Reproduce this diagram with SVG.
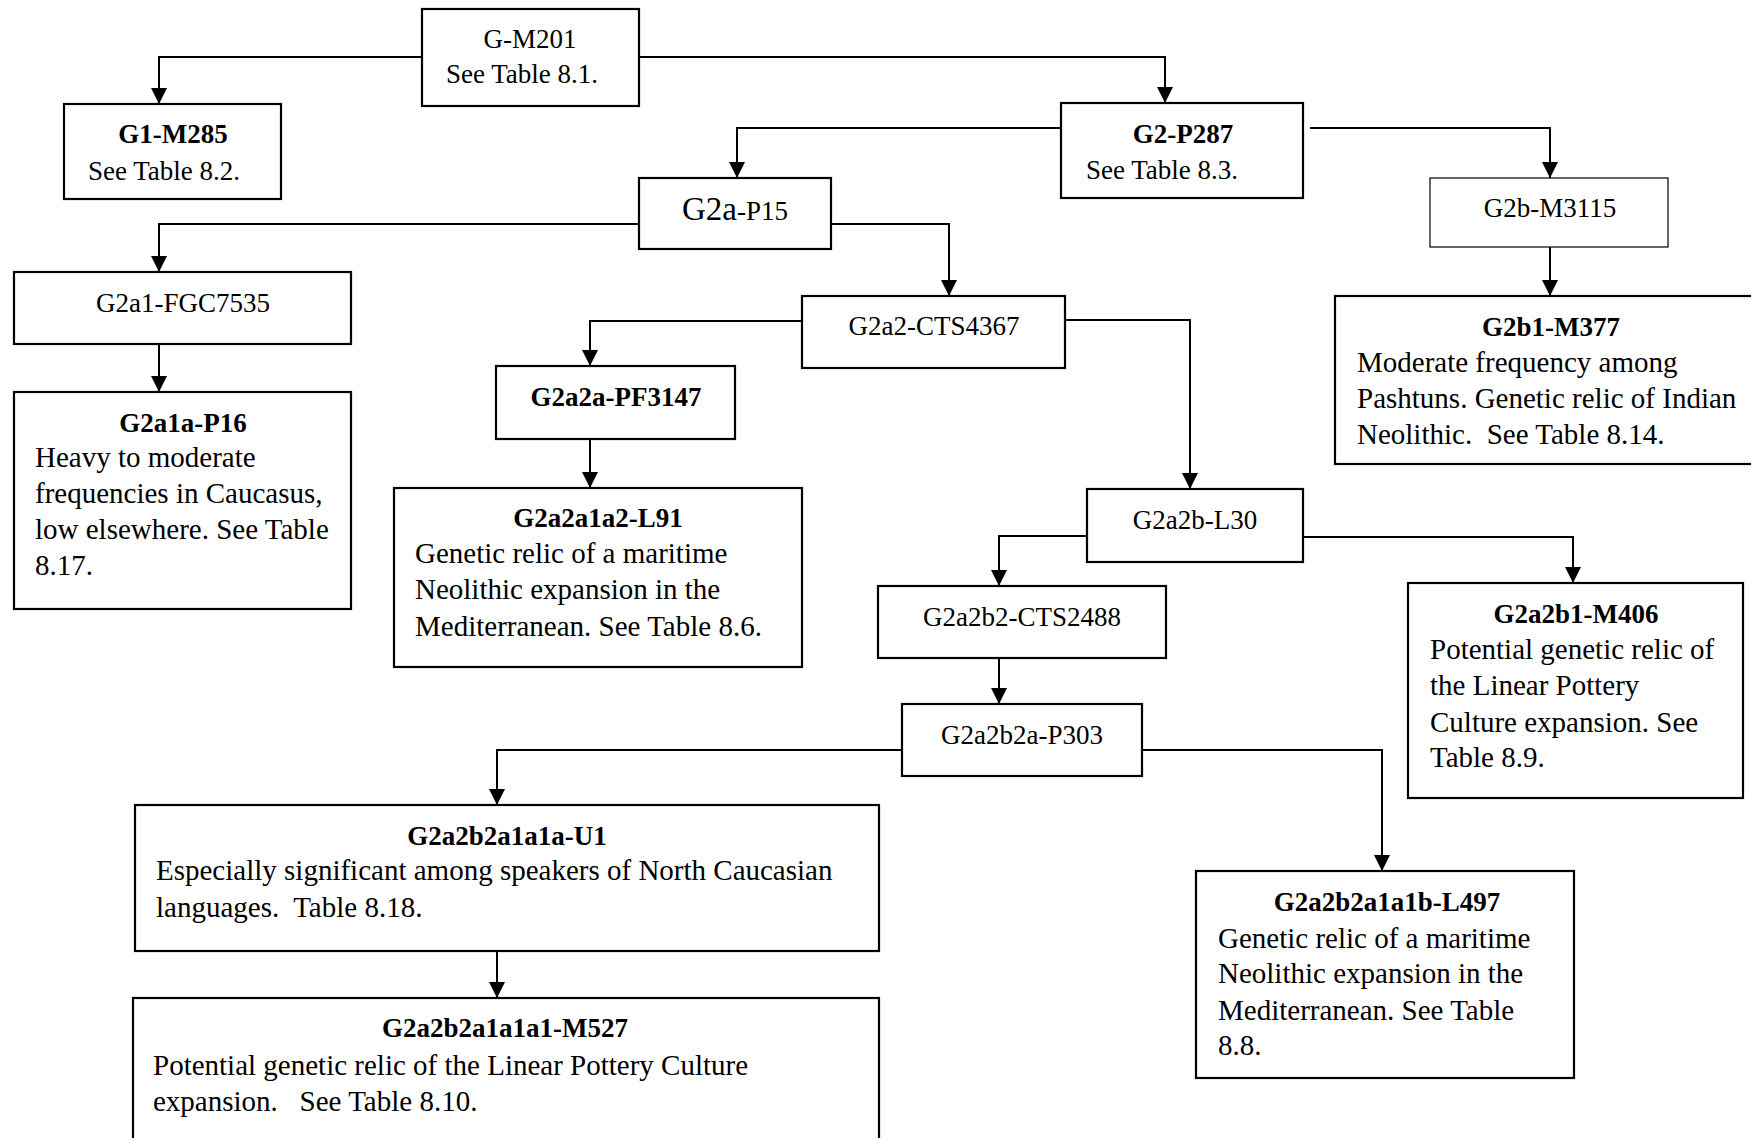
<svg xmlns="http://www.w3.org/2000/svg" width="1751" height="1138" viewBox="0 0 1751 1138">
<defs>
<marker id="arr" markerUnits="userSpaceOnUse" markerWidth="16" markerHeight="16" viewBox="0 0 14 14" refX="14" refY="7" orient="auto">
<path d="M0,0 L14,7 L0,14 Z" fill="#000"/>
</marker>
<style>
.box{fill:#fff;stroke:#000;stroke-width:2.2}
.thin{fill:#fff;stroke:#000;stroke-width:1.2}
.ln{fill:none;stroke:#000;stroke-width:2;marker-end:url(#arr)}
text{font-family:"Palatino Linotype","Book Antiqua",Palatino,"Liberation Serif",serif;fill:#000;white-space:pre}
.t{font-size:27px;text-anchor:middle}
.b{font-size:27px;font-weight:bold;text-anchor:middle}
.p{font-size:29px}
</style>
</defs>
<rect width="1751" height="1138" fill="#fff"/>
<g id="connectors">
<path class="ln" d="M422,57 H159 V104"/>
<path class="ln" d="M639,57 H1165 V103"/>
<path class="ln" d="M1061,128 H737 V178"/>
<path class="ln" d="M1310,128 H1550 V178"/>
<path class="ln" d="M639,224 H159 V272"/>
<path class="ln" d="M831,224 H949 V296"/>
<path class="ln" d="M159,344 V392"/>
<path class="ln" d="M802,321 H590 V366"/>
<path class="ln" d="M1065,320 H1190 V489"/>
<path class="ln" d="M590,439 V488"/>
<path class="ln" d="M1550,247 V296"/>
<path class="ln" d="M1087,536 H999 V586"/>
<path class="ln" d="M1303,537 H1573 V583"/>
<path class="ln" d="M999,658 V704"/>
<path class="ln" d="M902,750 H497 V805"/>
<path class="ln" d="M1142,750 H1382 V871"/>
<path class="ln" d="M497,951 V998"/>
</g>
<g id="G-M201">
<rect class="box" x="422" y="9" width="217" height="97"/>
<text class="t" x="530" y="48">G-M201</text>
<text class="t" x="522" y="83">See Table 8.1.</text>
</g>
<g id="G1-M285">
<rect class="box" x="64" y="104" width="217" height="95"/>
<text class="b" x="173" y="143">G1-M285</text>
<text class="t" x="164" y="180">See Table 8.2.</text>
</g>
<g id="G2-P287">
<rect class="box" x="1061" y="103" width="242" height="95"/>
<text class="b" x="1183" y="143">G2-P287</text>
<text class="t" x="1162" y="179">See Table 8.3.</text>
</g>
<g id="G2a-P15">
<rect class="box" x="639" y="178" width="192" height="71"/>
<text class="t" x="735" y="220"><tspan font-size="33">G2a</tspan>-P15</text>
</g>
<g id="G2b-M3115">
<rect class="thin" x="1430" y="178" width="238" height="69"/>
<text class="t" x="1550" y="217">G2b-M3115</text>
</g>
<g id="G2a1-FGC7535">
<rect class="box" x="14" y="272" width="337" height="72"/>
<text class="t" x="183" y="312">G2a1-FGC7535</text>
</g>
<g id="G2a2-CTS4367">
<rect class="box" x="802" y="296" width="263" height="72"/>
<text class="t" x="934" y="335">G2a2-CTS4367</text>
</g>
<g id="G2b1-M377">
<rect class="box" x="1335" y="296" width="430" height="168"/>
<text class="b" x="1551" y="336">G2b1-M377</text>
<text class="p" x="1357" y="372">Moderate frequency among</text>
<text class="p" x="1357" y="408">Pashtuns. Genetic relic of Indian</text>
<text class="p" x="1357" y="444" xml:space="preserve">Neolithic.  See Table 8.14.</text>
</g>
<g id="G2a2a-PF3147">
<rect class="box" x="496" y="366" width="239" height="73"/>
<text class="b" x="616" y="406">G2a2a-PF3147</text>
</g>
<g id="G2a1a-P16">
<rect class="box" x="14" y="392" width="337" height="217"/>
<text class="b" x="183" y="432">G2a1a-P16</text>
<text class="p" x="35" y="467">Heavy to moderate</text>
<text class="p" x="35" y="503">frequencies in Caucasus,</text>
<text class="p" x="35" y="539">low elsewhere. See Table</text>
<text class="p" x="35" y="575">8.17.</text>
</g>
<g id="G2a2a1a2-L91">
<rect class="box" x="394" y="488" width="408" height="179"/>
<text class="b" x="598" y="527">G2a2a1a2-L91</text>
<text class="p" x="415" y="563">Genetic relic of a maritime</text>
<text class="p" x="415" y="599">Neolithic expansion in the</text>
<text class="p" x="415" y="636">Mediterranean. See Table 8.6.</text>
</g>
<g id="G2a2b-L30">
<rect class="box" x="1087" y="489" width="216" height="73"/>
<text class="t" x="1195" y="529">G2a2b-L30</text>
</g>
<g id="G2a2b2-CTS2488">
<rect class="box" x="878" y="586" width="288" height="72"/>
<text class="t" x="1022" y="626">G2a2b2-CTS2488</text>
</g>
<g id="G2a2b1-M406">
<rect class="box" x="1408" y="583" width="335" height="215"/>
<text class="b" x="1576" y="623">G2a2b1-M406</text>
<text class="p" x="1430" y="659">Potential genetic relic of</text>
<text class="p" x="1430" y="695">the Linear Pottery</text>
<text class="p" x="1430" y="732">Culture expansion. See</text>
<text class="p" x="1430" y="767">Table 8.9.</text>
</g>
<g id="G2a2b2a-P303">
<rect class="box" x="902" y="704" width="240" height="72"/>
<text class="t" x="1022" y="744">G2a2b2a-P303</text>
</g>
<g id="G2a2b2a1a1a-U1">
<rect class="box" x="135" y="805" width="744" height="146"/>
<text class="b" x="507" y="845">G2a2b2a1a1a-U1</text>
<text class="p" x="156" y="880">Especially significant among speakers of North Caucasian</text>
<text class="p" x="156" y="917" xml:space="preserve">languages.  Table 8.18.</text>
</g>
<g id="G2a2b2a1a1b-L497">
<rect class="box" x="1196" y="871" width="378" height="207"/>
<text class="b" x="1387" y="911">G2a2b2a1a1b-L497</text>
<text class="p" x="1218" y="948">Genetic relic of a maritime</text>
<text class="p" x="1218" y="983">Neolithic expansion in the</text>
<text class="p" x="1218" y="1020">Mediterranean. See Table</text>
<text class="p" x="1218" y="1055">8.8.</text>
</g>
<g id="G2a2b2a1a1a1-M527">
<rect class="box" x="133" y="998" width="746" height="160"/>
<text class="b" x="505" y="1037">G2a2b2a1a1a1-M527</text>
<text class="p" x="153" y="1075">Potential genetic relic of the Linear Pottery Culture</text>
<text class="p" x="153" y="1111" xml:space="preserve">expansion.   See Table 8.10.</text>
</g>
</svg>
